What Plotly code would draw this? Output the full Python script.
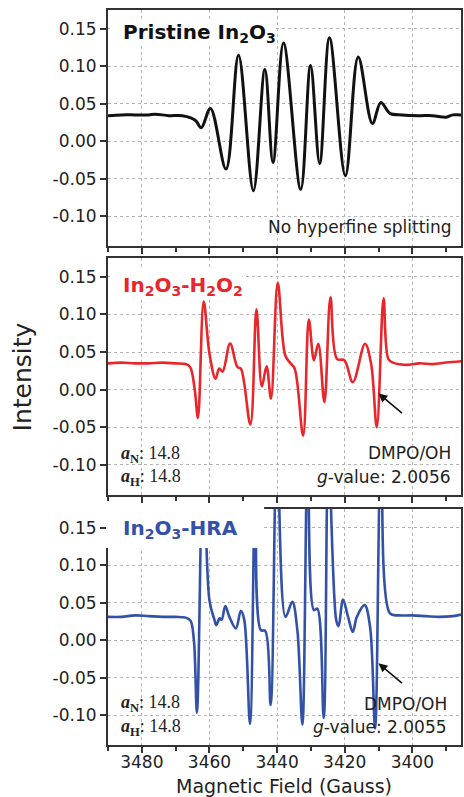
import plotly.graph_objects as go

# ---------------- data ----------------
pristine_field = [3490, 3486, 3482, 3478, 3476, 3472, 3468, 3465.5, 3464.0, 3462.4, 3459.7,
                  3455.1, 3451.4, 3447.0, 3443.6, 3441.2, 3438.1, 3433.0, 3430.1, 3427.4,
                  3424.5, 3419.8, 3416.0, 3411.8, 3409.3, 3406.6, 3403, 3398, 3394, 3390,
                  3388, 3385.6]
pristine_int = [0.034, 0.035, 0.035, 0.035, 0.036, 0.034, 0.034, 0.031, 0.027, 0.018, 0.0436,
                -0.0373, 0.1147, -0.0662, 0.0956, -0.0284, 0.131, -0.0644, 0.101, -0.0298,
                0.138, -0.0462, 0.1124, 0.0236, 0.0516, 0.037, 0.035, 0.034, 0.034, 0.032,
                0.035, 0.035]

h2o2_field = [3490, 3486, 3482, 3478, 3474, 3470, 3467, 3465.7, 3464.4, 3463.4, 3461.7,
              3460.0, 3458.2, 3457.1, 3456.1, 3453.9, 3451.7, 3450.7, 3447.9, 3446.1,
              3444.5, 3443.1, 3441.8, 3439.8, 3437.6, 3436.2, 3434.8, 3432.3, 3430.6,
              3429.1, 3427.8, 3426.0, 3424.2, 3422.3, 3420.1, 3417.6, 3414.0, 3412.2,
              3410.5, 3408.5, 3407.1, 3405.7, 3401.2, 3398, 3394, 3390, 3385.6]
h2o2_int = [0.035, 0.036, 0.035, 0.035, 0.036, 0.035, 0.034, 0.030, 0.002, -0.0375, 0.117,
            0.048, 0.0147, 0.028, 0.024, 0.0613, 0.030, 0.028, -0.0463, 0.1067,
            0.0044, 0.031, -0.012, 0.142, 0.0457, 0.036, 0.028, -0.061, 0.0933,
            0.039, 0.061, -0.0165, 0.1227, 0.041, 0.039, 0.010, 0.061, 0.0347,
            -0.0498, 0.1213, 0.041, 0.036, 0.033, 0.035, 0.034, 0.036, 0.0378]

hra_field = [3490, 3486, 3482, 3478, 3474, 3470, 3467, 3465.6, 3464.6, 3463.7, 3461.8,
             3460.0, 3458.5, 3458.0, 3457.0, 3456.4, 3455.3, 3454.1, 3452.2, 3450.7,
             3449.7, 3448.0, 3446.3, 3444.8, 3443.5, 3441.9, 3440.0, 3437.5, 3435.5,
             3434.0, 3432.5, 3430.9, 3429.1, 3428.1, 3426.2, 3424.8, 3422.5, 3421.8,
             3420.5, 3419.0, 3417.6, 3416.4, 3414.1, 3412.5, 3411.0, 3409.2, 3406.6,
             3404, 3400, 3396, 3392, 3388, 3385.6]
hra_int = [0.031, 0.031, 0.033, 0.032, 0.031, 0.031, 0.030, 0.026, 0.0, -0.097, 0.25,
           0.053, 0.0267, 0.020, 0.029, 0.027, 0.0453, 0.031, 0.0156, 0.039,
           0.027, -0.112, 0.25, 0.0133, 0.0124, -0.0867, 0.26, 0.031, 0.051,
           0.0133, -0.113, 0.25, 0.040, 0.042, -0.104, 0.25, 0.0267, 0.0187,
           0.054, 0.031, 0.011, 0.031, 0.0467, 0.0178, -0.118, 0.25, 0.0356,
           0.033, 0.033, 0.032, 0.031, 0.032, 0.034]

x_tick_vals = [3480, 3460, 3440, 3420, 3400]
x_tick_text = ["3480", "3460", "3440", "3420", "3400"]
y_tick_vals = [-0.10, -0.05, 0.00, 0.05, 0.10, 0.15]
y_tick_text = ["-0.10", "-0.05", "0.00", "0.05", "0.10", "0.15"]

# ---------------- layout helpers ----------------
W, H = 464, 797
L, R, T, B = 108, 1, 10, 52
PW, PH = W - L - R, H - T - B


def px(x):
    return (x - L) / PW


def py(y):
    return (H - B - y) / PH


BLACK = "#111111"
RED = "#e8262b"
BLUE = "#3451a9"
AXC = "#333333"
SANS = "DejaVu Sans"
SERIF = "Liberation Serif"

fig = go.Figure()
fig.add_trace(go.Scatter(x=pristine_field, y=pristine_int, mode="lines",
                         line=dict(color=BLACK, width=3, shape="spline", smoothing=1),
                         xaxis="x", yaxis="y", showlegend=False, hoverinfo="skip"))
fig.add_trace(go.Scatter(x=h2o2_field, y=h2o2_int, mode="lines",
                         line=dict(color=RED, width=2.6, shape="spline", smoothing=1),
                         xaxis="x2", yaxis="y2", showlegend=False, hoverinfo="skip"))
fig.add_trace(go.Scatter(x=hra_field, y=hra_int, mode="lines",
                         line=dict(color=BLUE, width=2.6, shape="spline", smoothing=1),
                         xaxis="x3", yaxis="y3", showlegend=False, hoverinfo="skip"))

xcommon = dict(range=[3490, 3385.6], showline=True, mirror=True, linecolor=AXC, linewidth=2,
               ticks="outside", ticklen=6, tickwidth=1.5, tickcolor=AXC,
               tickvals=x_tick_vals, ticktext=x_tick_text,
               showgrid=True, gridcolor="#b5b5b5", griddash="dot",
               gridwidth=1, zeroline=False,
               minor=dict(dtick=10, tick0=3400, ticks="outside", ticklen=3.5, tickwidth=1.5,
                          tickcolor=AXC, showgrid=False),
               tickfont=dict(family=SANS, size=17, color="#222"))
ycommon = dict(range=[-0.14, 0.175], showline=True, mirror=True, linecolor=AXC, linewidth=2,
               ticks="outside", ticklen=6, tickwidth=1.5, tickcolor=AXC,
               tickvals=y_tick_vals, ticktext=y_tick_text,
               showgrid=True, gridcolor="#b5b5b5",
               griddash="dot", gridwidth=1, zeroline=False,
               tickfont=dict(family=SANS, size=17, color="#222"))

dom1 = [py(246), py(10)]
dom2 = [py(495), py(258)]
dom3 = [py(745), py(509)]

fig.update_layout(
    width=W, height=H,
    margin=dict(l=L, r=R, t=T, b=B),
    paper_bgcolor="white", plot_bgcolor="white",
    xaxis=dict(**xcommon, domain=[0, 1], anchor="y", showticklabels=False),
    yaxis=dict(**ycommon, domain=dom1, anchor="x"),
    xaxis2=dict(**xcommon, domain=[0, 1], anchor="y2", showticklabels=False, matches="x"),
    yaxis2=dict(**ycommon, domain=dom2, anchor="x2"),
    xaxis3=dict(**xcommon, domain=[0, 1], anchor="y3", showticklabels=True, matches="x",
                ticklabelstandoff=-5),
    yaxis3=dict(**ycommon, domain=dom3, anchor="x3"),
)

# white boxes behind the panel titles
shapes = []
for (x0, y0, x1, y1) in [(110, 20, 274, 46), (110, 270, 243, 298), (106, 504, 265, 548)]:
    shapes.append(dict(type="rect", xref="paper", yref="paper",
                       x0=px(x0), x1=px(x1), y0=py(y1), y1=py(y0),
                       fillcolor="white", line=dict(width=0), layer="above"))
fig.update_layout(shapes=shapes)

ann = []


def text(x, y, s, size, color="#222", family=SANS, xanchor="left", **kw):
    ann.append(dict(x=px(x), y=py(y), xref="paper", yref="paper", text=s, showarrow=False,
                    xanchor=xanchor, yanchor="middle",
                    font=dict(family=family, size=size, color=color), **kw))


# panel titles
text(121, 33, "<b>Pristine In<sub>2</sub>O<sub>3</sub></b>", 20, color="#111")
text(121, 286, "<b>In<sub>2</sub>O<sub>3</sub>-H<sub>2</sub>O<sub>2</sub></b>", 20, color=RED)
text(121, 529, "<b>In<sub>2</sub>O<sub>3</sub>-HRA</b>", 20, color=BLUE)

# notes
text(456, 227, "No hyperfine splitting", 17, xanchor="right")
text(455, 453, "DMPO/OH", 17, xanchor="right")
text(455, 477, "<i>g</i>-value: 2.0056", 17, xanchor="right")
text(451, 704, "DMPO/OH", 17, xanchor="right")
text(451, 727, "<i>g</i>-value: 2.0055", 17, xanchor="right")

aN = "<b><i>a</i><sub>N</sub></b>: 14.8"
aH = "<b><i>a</i><sub>H</sub></b>: 14.8"
text(119, 454, aN, 18, family=SERIF)
text(119, 477, aH, 18, family=SERIF)
text(119, 703, aN, 18, family=SERIF)
text(119, 727, aH, 18, family=SERIF)

# axis titles
text(23, 377, "Intensity", 25, xanchor="center", textangle=-90)
text(285, 786, "Magnetic Field (Gauss)", 19, xanchor="center")

# arrows
for (xr, yr, yv) in [("x2", "y2", -0.005), ("x3", "y3", -0.031)]:
    ann.append(dict(x=3410, y=yv, xref=xr, yref=yr, ax=25, ay=21, axref="pixel", ayref="pixel",
                    showarrow=True, arrowhead=2, arrowsize=1.1, arrowwidth=1.6,
                    arrowcolor="#111", text=""))

fig.update_layout(annotations=ann)

fig.write_html("out.html", config={"displayModeBar": False},
               post_script="document.body.style.margin='0';document.body.style.overflow='hidden';")
